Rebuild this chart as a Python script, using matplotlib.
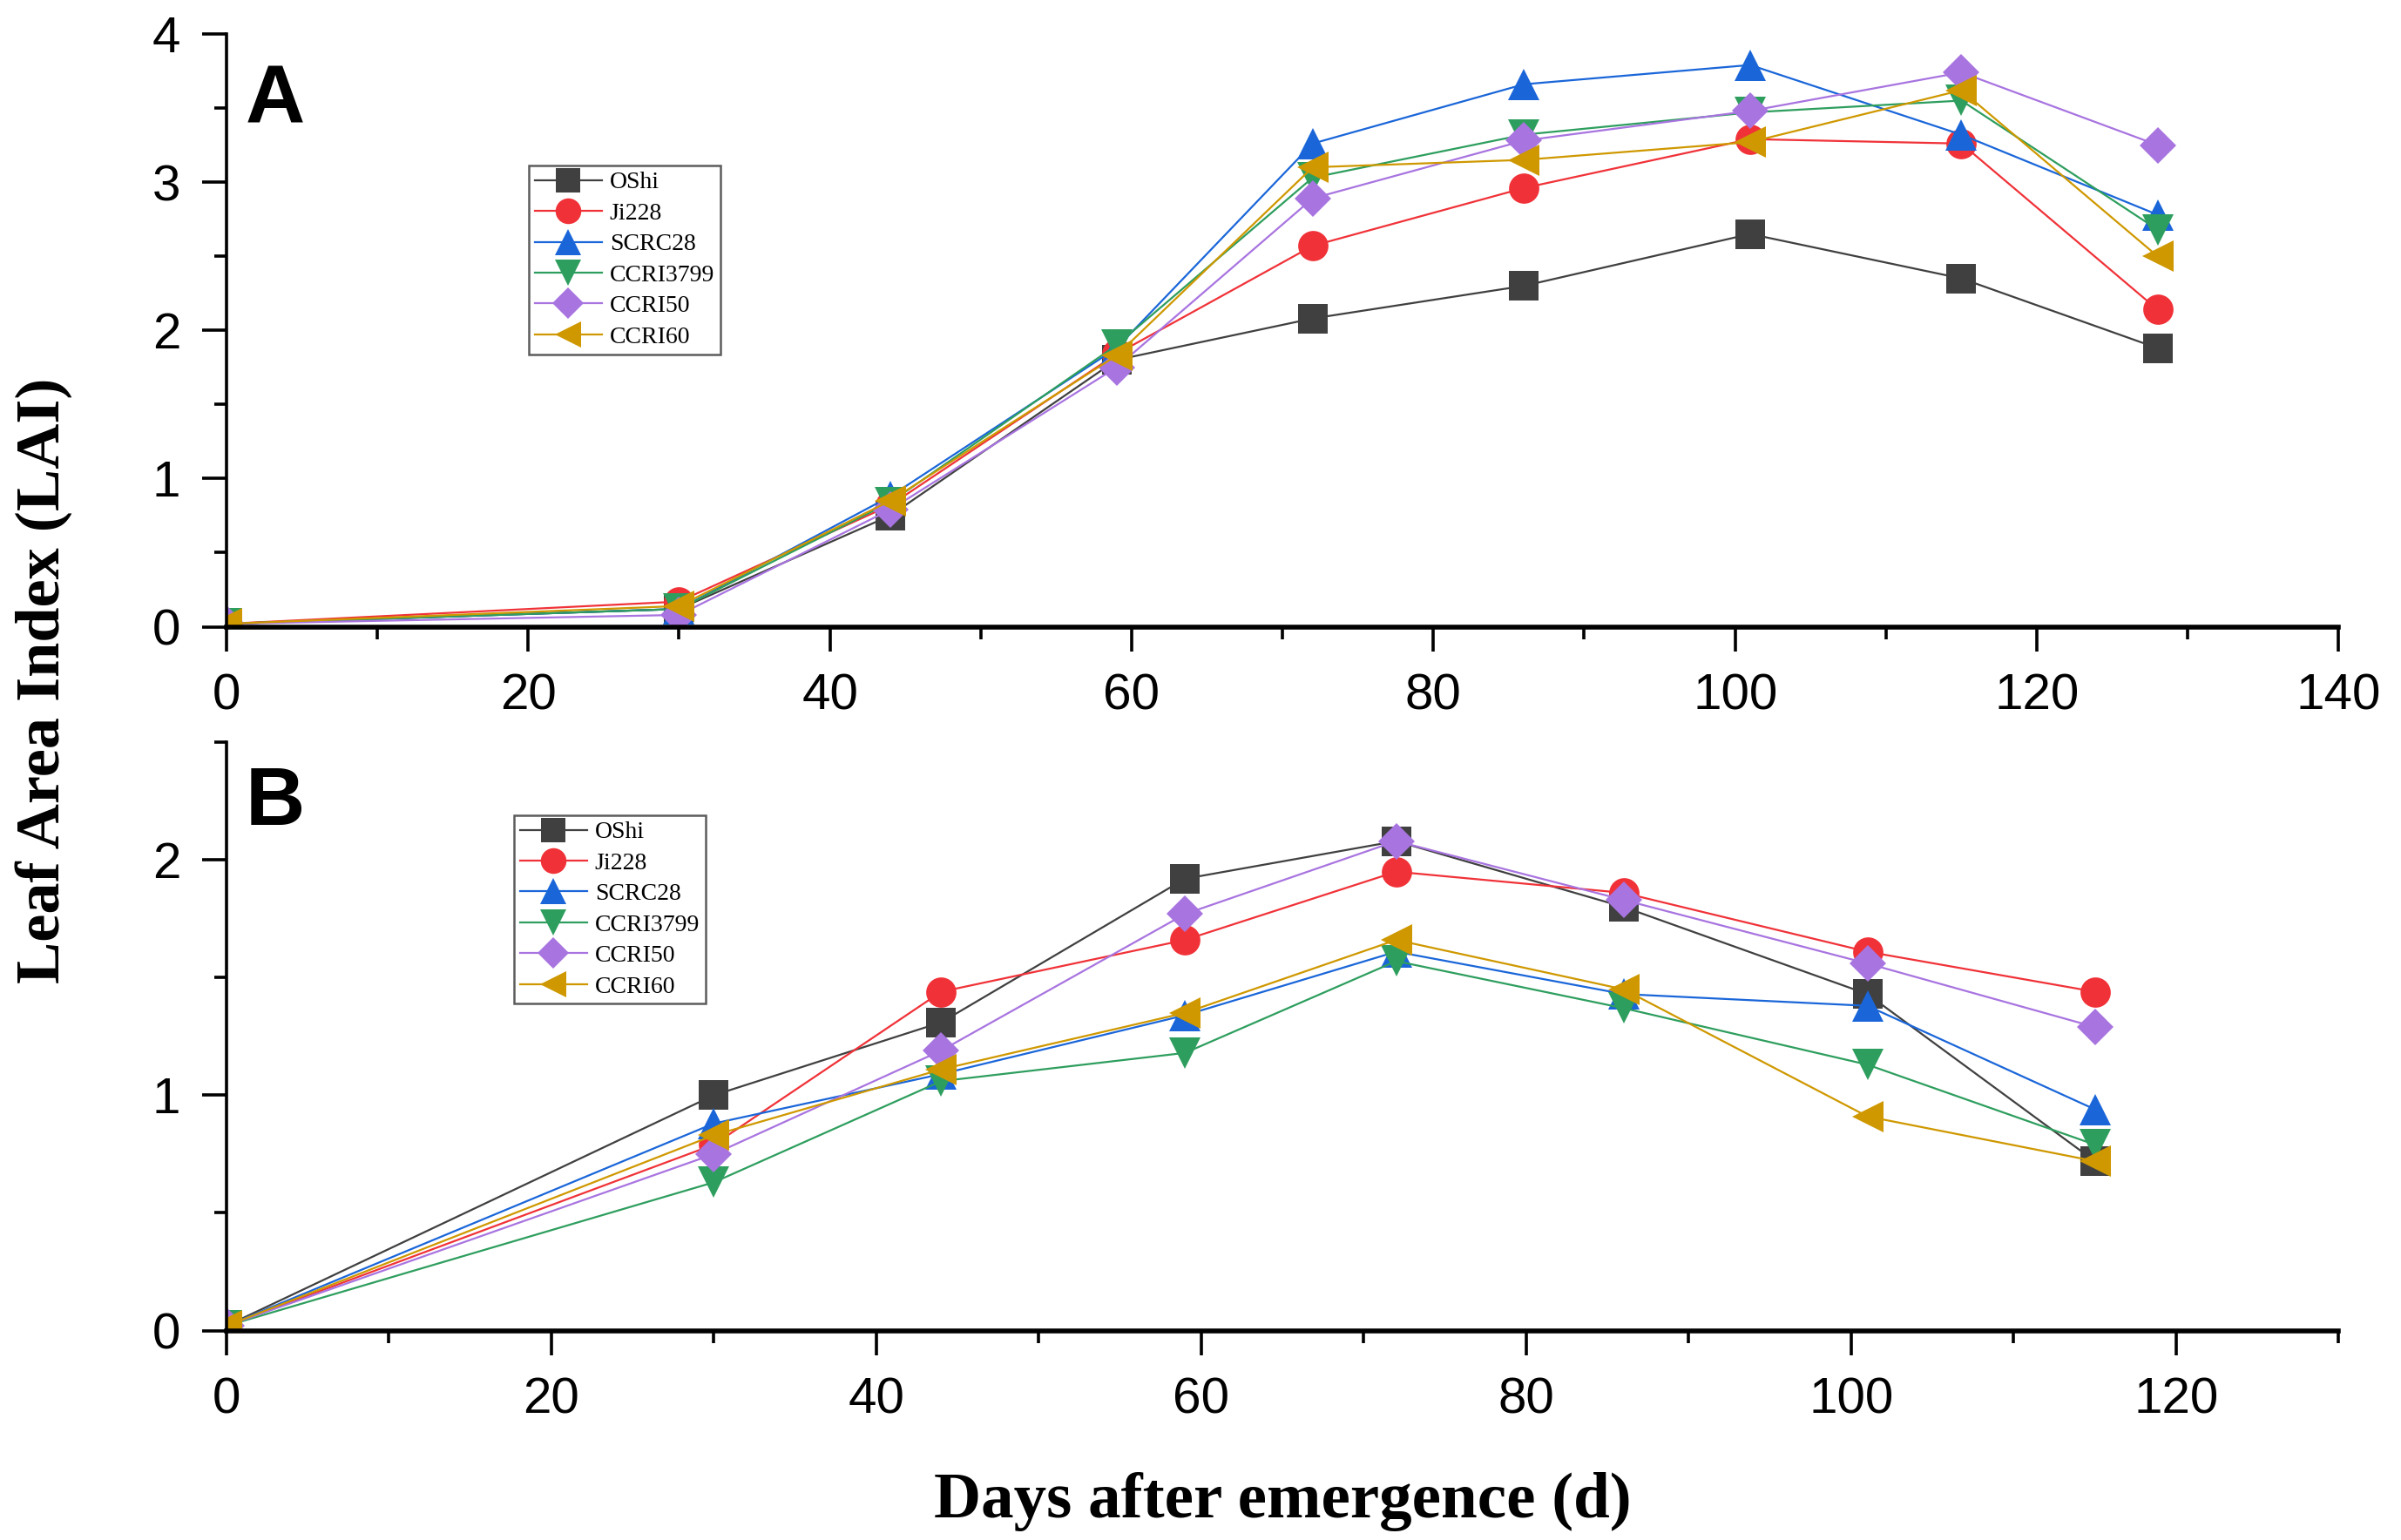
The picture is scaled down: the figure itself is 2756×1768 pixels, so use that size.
import matplotlib
matplotlib.use("Agg")
import matplotlib.pyplot as plt
from matplotlib.ticker import MultipleLocator

# cultivars, in legend order
cultivars = ["OShi", "Ji228", "SCRC28", "CCRI3799", "CCRI50", "CCRI60"]

# panel A
days_a = [0, 30, 44, 59, 72, 86, 101, 115, 128]
oshi_a = [0.02, 0.12, 0.75, 1.80, 2.08, 2.30, 2.65, 2.35, 1.88]
ji228_a = [0.02, 0.17, 0.82, 1.84, 2.57, 2.96, 3.29, 3.26, 2.14]
scrc28_a = [0.02, 0.12, 0.88, 1.88, 3.26, 3.66, 3.79, 3.32, 2.78]
ccri3799_a = [0.02, 0.12, 0.84, 1.90, 3.03, 3.32, 3.47, 3.55, 2.68]
ccri50_a = [0.02, 0.08, 0.79, 1.75, 2.89, 3.28, 3.48, 3.74, 3.25]
ccri60_a = [0.02, 0.14, 0.85, 1.83, 3.10, 3.15, 3.27, 3.62, 2.50]

# panel B
days_b = [0, 30, 44, 59, 72, 86, 101, 115]
oshi_b = [0.02, 1.00, 1.31, 1.92, 2.08, 1.80, 1.43, 0.72]
ji228_b = [0.02, 0.79, 1.44, 1.66, 1.95, 1.86, 1.61, 1.44]
scrc28_b = [0.02, 0.88, 1.09, 1.34, 1.61, 1.43, 1.38, 0.94]
ccri3799_b = [0.02, 0.63, 1.06, 1.18, 1.57, 1.37, 1.13, 0.79]
ccri50_b = [0.02, 0.75, 1.19, 1.77, 2.08, 1.83, 1.56, 1.29]
ccri60_b = [0.02, 0.83, 1.11, 1.35, 1.66, 1.45, 0.91, 0.72]

colors = ["#404040", "#f03238", "#1a66d9", "#2e9e5e", "#a874e0", "#cf9800"]
markers = ["s", "o", "^", "v", "D", "<"]
msizes = [12, 12.5, 13, 13, 10.5, 13]

sans = "Liberation Sans"
serif = "Liberation Serif"

fig = plt.figure(figsize=(13.78, 8.84), dpi=200)
ax_a = fig.add_axes([0.0943, 0.593, 0.8797, 0.385])
ax_b = fig.add_axes([0.0943, 0.136, 0.8797, 0.382])


def draw_panel(ax, days, series, xmax, ymax, letter, letter_y, leg_xy):
    for name, vals, c, m, ms in zip(cultivars, series, colors, markers, msizes):
        ax.plot(days, vals, color=c, marker=m, markersize=ms, linewidth=0.8,
                markeredgewidth=0, label=name)
    ax.set_xlim(0, xmax)
    ax.set_ylim(0, ymax)
    ax.spines["top"].set_visible(False)
    ax.spines["right"].set_visible(False)
    ax.spines["bottom"].set_linewidth(2.0)
    ax.spines["left"].set_linewidth(1.3)
    ax.xaxis.set_major_locator(MultipleLocator(20))
    ax.xaxis.set_minor_locator(MultipleLocator(10))
    ax.yaxis.set_major_locator(MultipleLocator(1))
    ax.yaxis.set_minor_locator(MultipleLocator(0.5))
    ax.tick_params(which="major", direction="out", length=10, width=1.3, pad=9)
    ax.tick_params(which="minor", direction="out", length=5, width=1.3)
    for lab in ax.get_xticklabels() + ax.get_yticklabels():
        lab.set_fontfamily(sans)
        lab.set_fontsize(21)
    ax.text(0.009, letter_y, letter, transform=ax.transAxes, ha="left", va="top",
            fontfamily=sans, fontweight="bold", fontsize=34)
    leg = ax.legend(loc="upper left", bbox_to_anchor=leg_xy, frameon=True,
                    fancybox=False, prop={"family": serif, "size": 10},
                    handlelength=2.8, handletextpad=0.3, labelspacing=0.36,
                    borderpad=0.25, borderaxespad=0, markerscale=0.85)
    leg.get_frame().set_edgecolor("#333333")
    leg.get_frame().set_linewidth(0.9)


draw_panel(ax_a, days_a,
           [oshi_a, ji228_a, scrc28_a, ccri3799_a, ccri50_a, ccri60_a],
           140, 4, "A", 0.95, (0.143, 0.778))
draw_panel(ax_b, days_b,
           [oshi_b, ji228_b, scrc28_b, ccri3799_b, ccri50_b, ccri60_b],
           130, 2.5, "B", 0.962, (0.136, 0.876))

ax_b.set_xlabel("Days after emergence (d)", fontfamily=serif, fontweight="bold",
                fontsize=27, labelpad=20)
fig.text(0.018, 0.558, "Leaf Area Index (LAI)", rotation=90, ha="center", va="center",
         fontfamily=serif, fontweight="bold", fontsize=26)

fig.savefig("out.png", dpi=200)
